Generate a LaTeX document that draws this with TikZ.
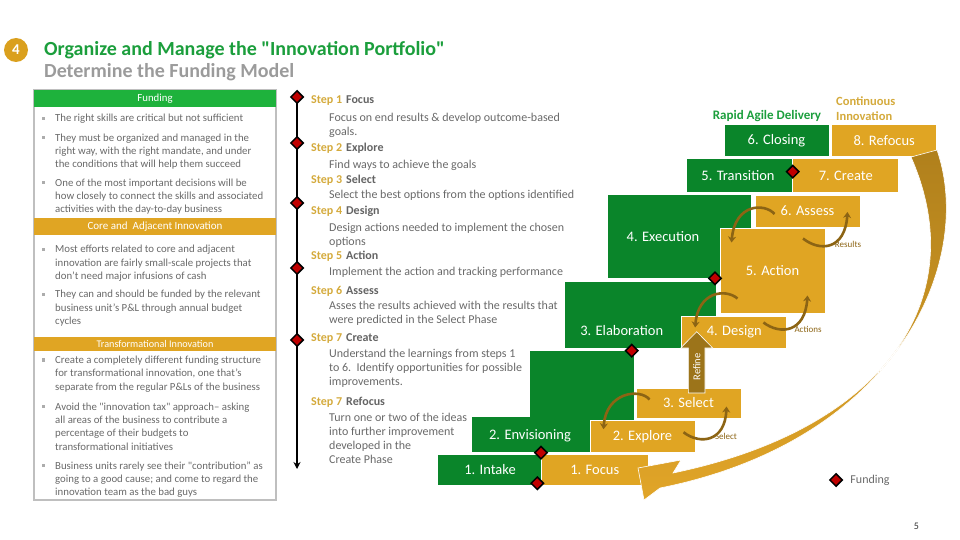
\documentclass[tikz,border=0pt]{standalone}
\usepackage{fontspec}
\setmainfont{Carlito}[Ligatures=TeXOff]
\usepackage{xcolor}
\usepackage{tikz}
\usetikzlibrary{shapes.geometric}
\usetikzlibrary{arrows.meta}
\usetikzlibrary{positioning,calc}

\definecolor{dlvgreen}{RGB}{10,133,42}
\definecolor{invgold}{RGB}{224,165,35}
\definecolor{hdrgreen}{RGB}{30,178,60}
\definecolor{titlegreen}{RGB}{27,158,60}
\definecolor{numgold}{RGB}{218,160,30}
\definecolor{arcbrown}{RGB}{140,100,20}
\definecolor{refinebrown}{RGB}{156,116,26}
\definecolor{fundred}{RGB}{192,0,0}
\definecolor{txtgray}{RGB}{105,105,105}
\definecolor{hdgray}{RGB}{100,100,100}
\definecolor{subgray}{RGB}{155,155,155}
\definecolor{stepgold}{RGB}{212,170,60}
\definecolor{sweeptop}{RGB}{176,128,28}
\definecolor{sweepbot}{RGB}{225,165,40}

\newcommand{\stp}[1]{\textcolor{stepgold}{Step #1}\hspace{4pt}}

\begin{document}
\begin{tikzpicture}[x=1pt, y=-1pt,
  every node/.style={inner sep=0pt},
  dlv/.style={text=white, font=\fontsize{14.5}{16}\selectfont},
  inv/.style={fill=invgold, draw=white, line width=1pt, text=white, font=\fontsize{14.5}{16}\selectfont},
  fund/.style={diamond, fill=fundred, draw=black, line width=1.5pt, minimum size=13pt},
  loopar/.style={draw=arcbrown, line width=2.6pt, -{Stealth[length=6pt,width=8pt]}},
  arlbl/.style={text=arcbrown, font=\fontsize{9}{10}\selectfont},
  band/.style={minimum width=242pt, text=white},
  bul/.style={anchor=north west, align=left, text=txtgray, font=\fontsize{10.8}{13.3}\selectfont},
  stephd/.style={anchor=west, text=hdgray, font=\fontsize{12}{14}\selectfont\bfseries},
  stepdesc/.style={anchor=north west, align=left, text=txtgray, font=\fontsize{12}{14}\selectfont}
]
\useasboundingbox (0,0) rectangle (960,540);

% title
\node[circle, fill=numgold, minimum size=24pt, text=white, font=\fontsize{15}{16}\selectfont\bfseries] (num) at (16,50) {4};
\node[anchor=west, text=titlegreen, font=\fontsize{20}{22}\selectfont\bfseries] (title) at (44,50) {Organize and Manage the "Innovation Portfolio"};
\node[anchor=west, text=subgray, font=\fontsize{20}{22}\selectfont\bfseries] (subtitle) at (44,72) {Determine the Funding Model};

% left panel
\node[draw=gray!50, line width=1.2pt, minimum width=242pt, minimum height=410pt] (panel) at (155,295) {};
\node[band, fill=hdrgreen, minimum height=16.5pt, font=\fontsize{10.8}{12}\selectfont] (fundhdr) at (155,98.3) {Funding};
\node[band, fill=invgold, minimum height=16.5pt, font=\fontsize{11}{12}\selectfont] (corehdr) at (155,226.6) {Core and\ \ Adjacent Innovation};
\node[band, fill=invgold, minimum height=14pt, font=\fontsize{10.2}{11}\selectfont] (transhdr) at (155,343.7) {Transformational Innovation};
\foreach \y in {118.3,137.7,182.7,249.3,294.3,360,406.7,465.7}
  \fill[gray!65] (42,\y-1.6) rectangle (45.2,\y+1.6);
\node[bul] (b1) at (55,114.1) {The right skills are critical but not sufficient};
\node[bul] (b2) at (55,133.5) {They must be organized and managed in the\\right way, with the right mandate, and under\\the conditions that will help them succeed};
\node[bul] (b3) at (55,178.5) {One of the most important decisions will be\\how closely to connect the skills and associated\\activities with the day-to-day business};
\node[bul] (b4) at (55,245.1) {Most efforts related to core and adjacent\\innovation are fairly small-scale projects that\\don’t need major infusions of cash};
\node[bul] (b5) at (55,290.1) {They can and should be funded by the relevant\\business unit’s P\&L through annual budget\\cycles};
\node[bul] (b6) at (55,355.8) {Create a completely different funding structure\\for transformational innovation, one that’s\\separate from the regular P\&Ls of the business};
\node[bul] (b7) at (55,402.5) {Avoid the "innovation tax" approach– asking\\all areas of the business to contribute a\\percentage of their budgets to\\transformational initiatives};
\node[bul] (b8) at (55,461.5) {Business units rarely see their "contribution” as\\going to a good cause; and come to regard the\\innovation team as the bad guys};

% timeline of steps
\coordinate (tltop) at (297,91);
\coordinate (tlbot) at (297,469);
\draw[line width=2pt, -{Stealth[length=7pt,width=7pt]}] (tltop) -- (tlbot);
\foreach \y in {97,143,203,268,340}
  \node[fund] (m\y) at (297,\y) {};
\node[stephd] (st1) at (311,101) {\stp{1}Focus};
\node[stepdesc] (sd1) at (329,112.6) {Focus on end results \& develop outcome-based\\goals.};
\node[stephd] (st2) at (311,148.3) {\stp{2}Explore};
\node[stepdesc] (sd2) at (329,160.3) {Find ways to achieve the goals};
\node[stephd] (st3) at (311,180.7) {\stp{3}Select};
\node[stepdesc] (sd3) at (329,190.3) {Select the best options from the options identified};
\node[stephd] (st4) at (311,211.7) {\stp{4}Design};
\node[stepdesc] (sd4) at (329,223) {Design actions needed to implement the chosen\\options};
\node[stephd] (st5) at (311,256.7) {\stp{5}Action};
\node[stepdesc] (sd5) at (329,267) {Implement the action and tracking performance};
\node[stephd] (st6) at (311,291.7) {\stp{6}Assess};
\node[stepdesc] (sd6) at (329,301.3) {Asses the results achieved with the results that\\were predicted in the Select Phase};
\node[stephd] (st7) at (311,338.3) {\stp{7}Create};
\node[stepdesc] (sd7) at (329,349.3) {Understand the learnings from steps 1\\to 6.\ \ Identify opportunities for possible\\improvements.};
\node[stephd] (st8) at (311,402.3) {\stp{7}Refocus};
\node[stepdesc] (sd8) at (329,413) {Turn one or two of the ideas\\into further improvement\\developed in the\\Create Phase};

% delivery staircase (green)
\fill[dlvgreen, draw=white, line width=1pt] (437,454) rectangle (541.5,485.5);
\fill[dlvgreen, draw=white, line width=1pt] (471,452.5) -- (471,416) -- (529,416) -- (529,350) -- (634,350) -- (634,420) -- (590,420) -- (590,452.5) -- cycle;
\fill[dlvgreen, draw=white, line width=1pt] (564,281) rectangle (716,348);
\fill[dlvgreen, draw=white, line width=1pt] (607,194) rectangle (751,278);
\fill[dlvgreen, draw=white, line width=1pt] (686.7,159) rectangle (792.7,192);
\fill[dlvgreen, draw=white, line width=1pt] (724,125) rectangle (829,157);
\node[dlv] (intake) at (490,470) {1. Intake};
\node[dlv] (envis) at (530,435.5) {2. Envisioning};
\node[dlv] (elab) at (621.7,330.5) {3. Elaboration};
\node[dlv] (exec) at (663,236.5) {4. Execution};
\node[dlv] (trans) at (738,176) {5. Transition};
\node[dlv] (closing) at (776.5,141) {6. Closing};

% innovation staircase (gold)
\node[inv, minimum width=106.5pt, minimum height=31.5pt] (focus) at (594.8,469.8) {1. Focus};
\node[inv, minimum width=105pt, minimum height=31.3pt] (explore) at (642.5,436.4) {2. Explore};
\node[inv, minimum width=105pt, minimum height=30pt] (select) at (688.5,403) {3. Select};
\node[inv, minimum width=105.3pt, minimum height=32pt] (design) at (734.3,332) {4. Design};
\node[inv, minimum width=105pt, minimum height=85pt] (action) at (772.5,270.5) {5. Action};
\node[inv, minimum width=105pt, minimum height=32pt] (assess) at (807.5,211) {6. Assess};
\node[inv, minimum width=106.3pt, minimum height=33pt] (create) at (845.8,175.5) {7. Create};
\node[inv, minimum width=105pt, minimum height=32pt] (refocus) at (884.2,141) {8. Refocus};

\node[anchor=center, text=titlegreen, font=\fontsize{13}{14}\selectfont\bfseries] (rapid) at (767,116) {Rapid Agile Delivery};
\node[anchor=north west, align=left, text=stepgold, font=\fontsize{12.5}{15}\selectfont\bfseries] (contin) at (836,96.4) {Continuous\\Innovation};

% refine arrow
\fill[refinebrown, draw=white, line width=0.6pt] (688.3,393) -- (688.3,348) -- (680.7,348) -- (696.7,331.7) -- (712.7,348) -- (705,348) -- (705,393) -- cycle;
\node[rotate=90, text=white, font=\fontsize{10.5}{12}\selectfont] (refine) at (696.7,367) {Refine};

% loops between the gold steps
\draw[loopar] ($(assess.west)+(20,3)$) .. controls (765,203) and (735,203) .. ($(action.north west)+(12,15)$);
\draw[loopar] ($(action.north)+(30.5,11)$) .. controls (820,252) and (845,250) .. ($(assess.east)+(-13,1)$);
\node[arlbl] (reslbl) at (848,244) {Results};
\draw[loopar] ($(action.south west)+(18,-15)$) .. controls (725,288) and (698,292) .. ($(design.north west)+(14,12)$);
\draw[loopar] ($(design.north east)+(-24,7)$) .. controls (780,335) and (805,333) .. ($(action.south east)+(-18,-18)$);
\node[arlbl] (actlbl) at (808,329) {Actions};
\draw[loopar] ($(select.north west)+(14,12)$) .. controls (640,388) and (606,392) .. ($(explore.north west)+(14,9)$);
\draw[loopar] ($(explore.north east)+(-12,12)$) .. controls (700,445) and (725,442) .. ($(select.south east)+(-15,-12)$);
\node[arlbl] (sellbl) at (726,436) {Select};

% sweep back from refocus to focus
\shade[top color=sweeptop, bottom color=sweepbot, draw=white, line width=0.6pt]
  (937,150) .. controls (975,260) and (900,440) .. (660,488) -- (644,500) -- (638,468) -- (681,460) -- (673,473)
  .. controls (890,428) and (972,295) .. (911,157) -- cycle;

% funding points
\node[fund] (f1) at (537.3,483.3) {};
\node[fund] (f2) at (541,452.7) {};
\node[fund] (f3) at (631.7,350.7) {};
\node[fund] (f4) at (715,278.3) {};
\node[fund] (f5) at (792.7,171.7) {};
\node[fund] (legdia) at (836,480) {};
\node[right=7pt of legdia, text=txtgray, font=\fontsize{12}{13}\selectfont] (legtxt) {Funding};

\node[font=\fontsize{10}{11}\selectfont, text=black!80] (pgno) at (916.5,526) {5};
\end{tikzpicture}
\end{document}
